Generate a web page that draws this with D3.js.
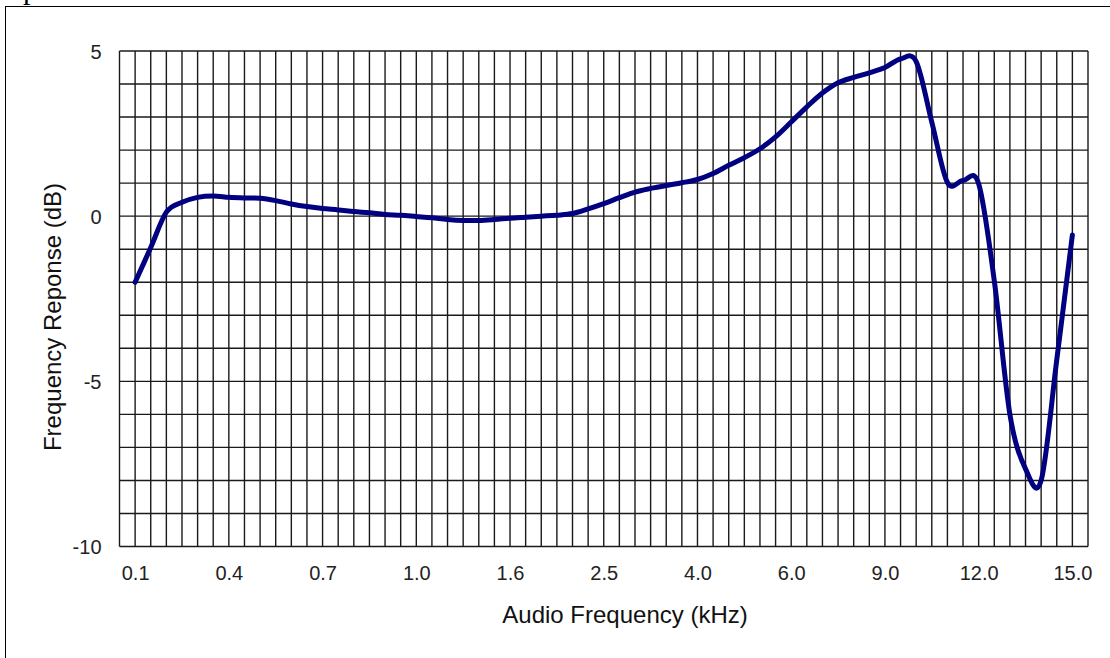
<!DOCTYPE html>
<html>
<head>
<meta charset="utf-8">
<script src="https://cdn.jsdelivr.net/npm/d3@7"></script>
<style>
  html, body { margin: 0; padding: 0; background: #fff; }
  svg { display: block; }
</style>
</head>
<body>
<svg id="chart" width="1110" height="658"></svg>
<script>
// Frequency response readings, one per category (61 categories, labelled every 6th)
const responseDb = [
  -2.0, -0.95, 0.12, 0.42, 0.57, 0.61, 0.57, 0.55, 0.54, 0.47,
  0.37, 0.29, 0.23, 0.19, 0.14, 0.10, 0.05, 0.03, -0.01, -0.05,
  -0.10, -0.13, -0.13, -0.10, -0.06, -0.03, 0.0, 0.03, 0.08, 0.22,
  0.38, 0.56, 0.73, 0.84, 0.93, 1.01, 1.11, 1.29, 1.54, 1.77,
  2.04, 2.40, 2.85, 3.31, 3.73, 4.04, 4.20, 4.34, 4.50, 4.76,
  4.68, 2.85, 1.02, 1.08, 0.98, -1.95, -6.0, -7.65, -8.0, -4.35,
  -0.57
];
const xTickLabels = ["0.1", "0.4", "0.7", "1.0", "1.6", "2.5", "4.0", "6.0", "9.0", "12.0", "15.0"];
const xTickEvery = 6;
const yTicks = [5, 0, -5, -10];
const yDomain = [-10, 5];
const xTitle = "Audio Frequency (kHz)";
const yTitle = "Frequency Reponse (dB)";

const svg = d3.select("#chart");
const W = 1110, H = 658;
const plot = { left: 119.5, right: 1088, top: 51, bottom: 546.5 };

// background + outer frame
svg.append("rect").attr("width", W).attr("height", H).attr("fill", "#fff");
svg.append("rect").attr("x", 5.5).attr("y", 6.5).attr("width", W + 10).attr("height", H + 10)
  .attr("fill", "none").attr("stroke", "#000").attr("stroke-width", 1);
// cropped text at the very top (only its descender is visible)
svg.append("text").attr("x", 23).attr("y", -1).attr("font-family", "Liberation Serif, Times New Roman, serif")
  .attr("font-size", 30).attr("fill", "#000").text("p");

const idx = d3.range(responseDb.length);
const x = d3.scalePoint().domain(idx).range([plot.left, plot.right]).padding(1);
const y = d3.scaleLinear().domain(yDomain).range([plot.bottom, plot.top]);

// grid
const grid = svg.append("g").attr("stroke", "#1a1a1a").attr("stroke-width", 1.4);
const step = x.step();
const vLines = d3.range(-1, responseDb.length + 1).map(i => plot.left + (i + 1) * step);
grid.selectAll("line.v").data(vLines).join("line").attr("class", "v")
  .attr("x1", d => d).attr("x2", d => d).attr("y1", plot.top).attr("y2", plot.bottom);
grid.selectAll("line.h").data(d3.range(yDomain[0], yDomain[1] + 1)).join("line").attr("class", "h")
  .attr("x1", plot.left).attr("x2", plot.right).attr("y1", d => y(d)).attr("y2", d => y(d));

// axes
const font = "Liberation Sans, Arial, Helvetica, sans-serif";
const xAxis = d3.axisBottom(x)
  .tickValues(d3.range(0, responseDb.length, xTickEvery))
  .tickFormat((d, i) => xTickLabels[i])
  .tickSize(0).tickPadding(0);
const gx = svg.append("g").attr("transform", `translate(0,${plot.bottom})`).call(xAxis);
gx.select(".domain").remove();
gx.selectAll("text").attr("font-family", font).attr("font-size", 20).attr("fill", "#222")
  .attr("dy", null).attr("y", 33);

const yAxis = d3.axisLeft(y).tickValues(yTicks).tickFormat(d => String(d)).tickSize(0).tickPadding(0);
const gy = svg.append("g").attr("transform", `translate(${plot.left - 18},0)`).call(yAxis);
gy.select(".domain").remove();
gy.selectAll("text").attr("font-family", font).attr("font-size", 20).attr("fill", "#222")
  .attr("dy", "0.36em").attr("x", 0);

// titles
svg.append("text").attr("x", 625).attr("y", 623).attr("text-anchor", "middle")
  .attr("font-family", font).attr("font-size", 24).attr("fill", "#111").text(xTitle);
svg.append("text").attr("transform", "translate(61,317) rotate(-90)").attr("text-anchor", "middle")
  .attr("font-family", font).attr("font-size", 24).attr("fill", "#111").text(yTitle);

// series line
const line = d3.line().x((d, i) => x(i)).y(d => y(d)).curve(d3.curveCardinal.tension(0));
svg.append("path").datum(responseDb).attr("d", line)
  .attr("fill", "none").attr("stroke", "#000080").attr("stroke-width", 5)
  .attr("stroke-linejoin", "round").attr("stroke-linecap", "round");
</script>
</body>
</html>
